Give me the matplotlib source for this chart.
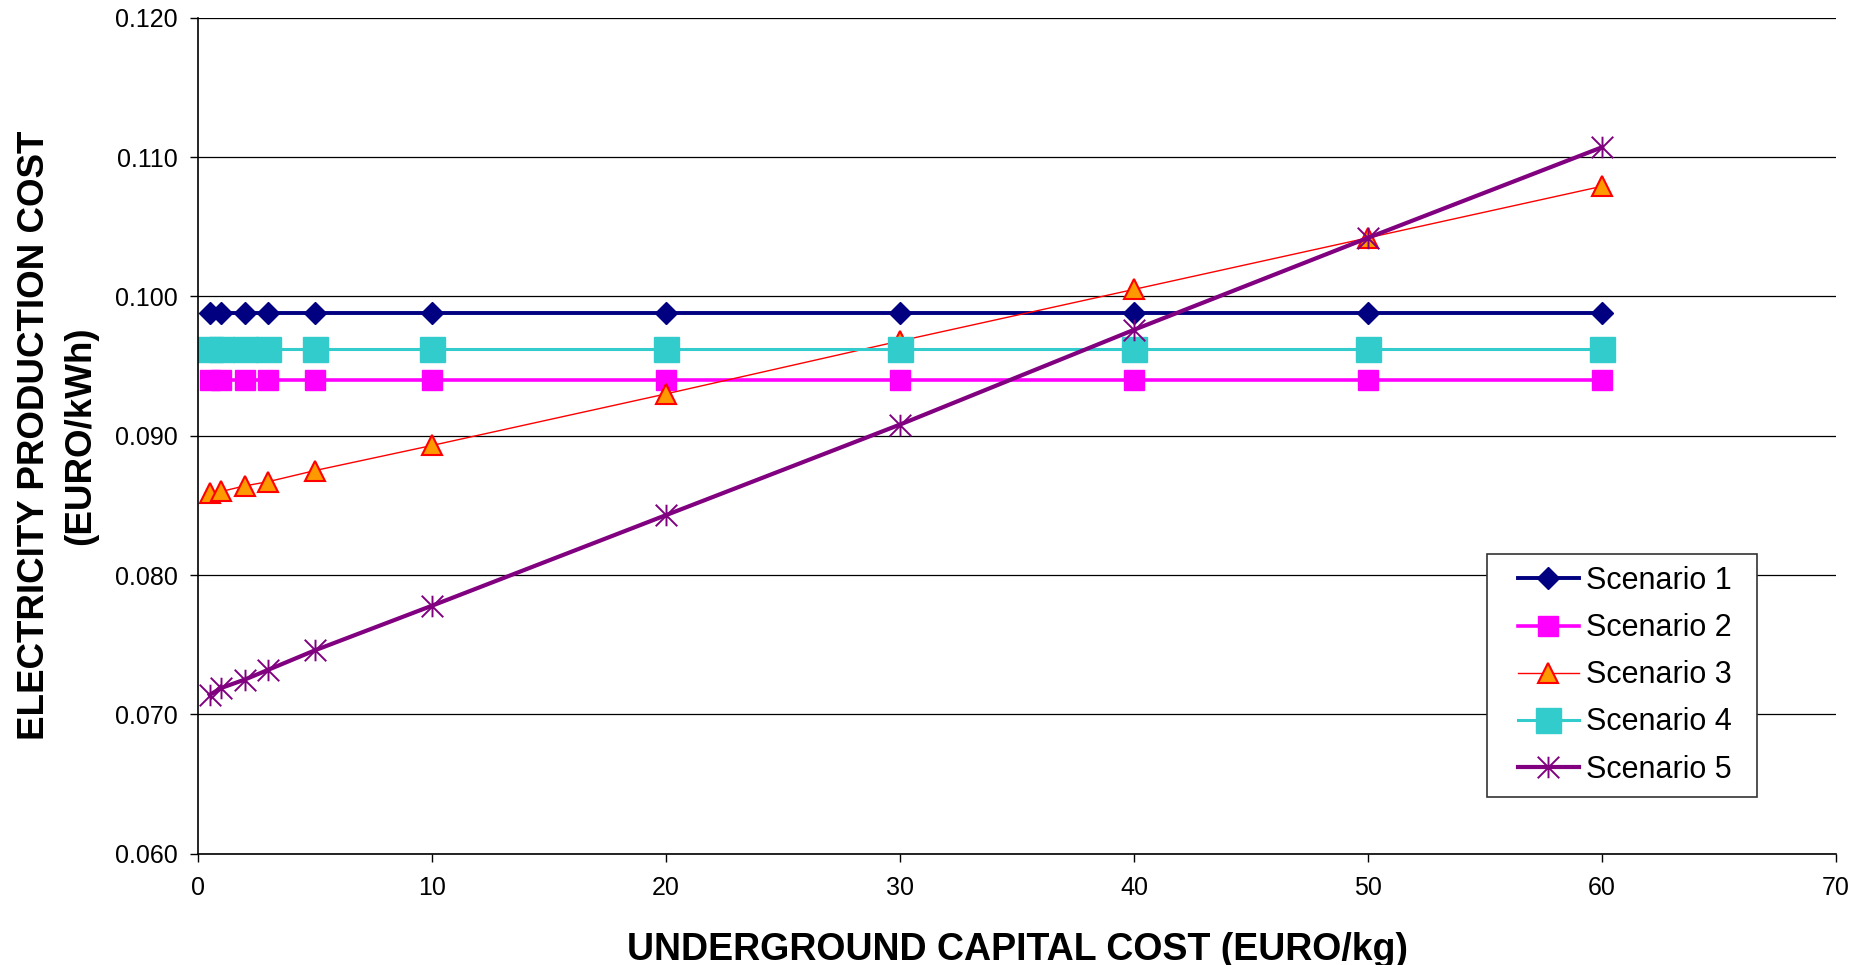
import numpy as np
import matplotlib
matplotlib.use('Agg')
import matplotlib.pyplot as plt
from matplotlib.path import Path
from matplotlib.lines import Line2D
from matplotlib.legend_handler import HandlerLine2D

plt.rcParams['font.family'] = ['Liberation Sans', 'DejaVu Sans']

# capital cost (EURO/kg)
capital_cost = [0.5, 1, 2, 3, 5, 10, 20, 30, 40, 50, 60]

scenario1 = [0.0988] * 11
scenario2 = [0.0940] * 11
scenario3 = [0.0859, 0.0860, 0.0864, 0.0867, 0.0875, 0.0893, 0.0930, 0.0968, 0.1005, 0.1042, 0.1079]
scenario4 = [0.0962] * 11
scenario5 = [0.0714, 0.0719, 0.0725, 0.0732, 0.0746, 0.0778, 0.0843, 0.0908, 0.0976, 0.1042, 0.1107]

labels = ['Scenario 1', 'Scenario 2', 'Scenario 3', 'Scenario 4', 'Scenario 5']
xticks = [0, 10, 20, 30, 40, 50, 60, 70]
yticks = [0.060, 0.070, 0.080, 0.090, 0.100, 0.110, 0.120]

# excel style star: an X with a vertical bar through it
star = Path([(-1, -1), (1, 1), (-1, 1), (1, -1), (0, -1), (0, 1)],
            [Path.MOVETO, Path.LINETO, Path.MOVETO, Path.LINETO, Path.MOVETO, Path.LINETO])

fig = plt.figure(figsize=(18.68, 9.65), dpi=100)
ax = fig.add_axes([0.106, 0.1153, 0.8769, 0.8664])

ax.plot(capital_cost, scenario1, color='#000080', lw=2.8, marker='D', ms=11.5, label=labels[0])
ax.plot(capital_cost, scenario2, color='#FF00FF', lw=2.6, marker='s', ms=14, label=labels[1])
ax.plot(capital_cost, scenario3, color='#FF0000', lw=1.0, marker='^', ms=14.5,
        mfc='#FF9900', mec='#FF0000', mew=1.5, label=labels[2])
ax.plot(capital_cost, scenario4, color='#33CCCC', lw=2.2, marker='s', ms=18, label=labels[3])
ax.plot(capital_cost, scenario5, color='#800080', lw=3.0, marker=star, ms=15.5, mew=1.4, label=labels[4])

ax.set_xlim(0, 70)
ax.set_ylim(0.060, 0.120)
ax.set_xticks(xticks)
ax.set_yticks(yticks)
ax.set_yticklabels(['%.3f' % v for v in yticks])
ax.tick_params(axis='both', labelsize=18, length=5.8, width=1, direction='out', colors='black')
ax.tick_params(axis='y', pad=9)
ax.tick_params(axis='x', pad=10)

ax.grid(axis='y', color='black', lw=0.9)
ax.set_axisbelow(True)
for s in ['top', 'right']:
    ax.spines[s].set_visible(False)
for s in ['left', 'bottom']:
    ax.spines[s].set_linewidth(1.2)

ax.set_xlabel('UNDERGROUND CAPITAL COST (EURO/kg)', fontsize=27, fontweight='bold')
ax.xaxis.set_label_coords(0.5, -0.094)
ax.set_ylabel('ELECTRICITY PRODUCTION COST\n(EURO/kWh)', fontsize=26.5, fontweight='bold',
              linespacing=1.4)
ax.yaxis.set_label_coords(-0.061, 0.5)

leg = ax.legend(loc='upper left', bbox_to_anchor=(0.787, 0.0666, 0.165, 0.292), mode='expand',
                borderaxespad=0, fontsize=22, frameon=True, fancybox=False, framealpha=1,
                edgecolor='#333333', handlelength=2.6, handletextpad=0.25, borderpad=0.4,
                labelspacing=0.56, numpoints=1, handler_map={Line2D: HandlerLine2D(xpad=0.6)})
leg.get_frame().set_linewidth(1.2)

fig.savefig('out.png', dpi=100)
